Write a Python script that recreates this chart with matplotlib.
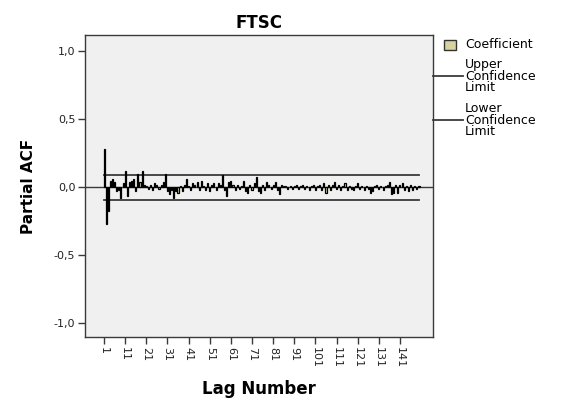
import matplotlib
matplotlib.use("Agg")
import matplotlib.pyplot as plt
from matplotlib.lines import Line2D
from matplotlib.patches import Rectangle
from matplotlib.ticker import FuncFormatter

plt.rcParams["font.family"] = ["DejaVu Sans"]

# partial autocorrelations for lags 1..150
lags = list(range(1, 151))
pacf = [
    0.28, -0.27, -0.17, 0.05, 0.06, 0.04, -0.03, -0.02, -0.08, 0.03,
    0.12, -0.06, 0.04, 0.05, 0.06, -0.03, 0.10, 0.04, 0.12, 0.02,
    0.01, -0.01, 0.02, -0.02, 0.03, 0.02, -0.01, 0.02, 0.04, 0.10,
    -0.03, -0.05, -0.02, -0.08, -0.03, -0.04, 0.01, -0.03, 0.02, 0.06,
    0.01, -0.02, 0.03, 0.02, 0.04, -0.02, 0.05, 0.01, -0.02, 0.03,
    -0.03, 0.02, 0.03, -0.02, 0.03, 0.02, 0.09, -0.02, -0.06, 0.04,
    0.05, 0.02, -0.02, 0.02, -0.01, 0.01, 0.05, -0.03, -0.04, 0.02,
    -0.02, 0.03, 0.08, -0.03, -0.04, 0.02, -0.02, 0.04, 0.02, -0.01,
    0.02, 0.04, -0.02, -0.05, 0.02, 0.01, 0.01, -0.01, 0.01, -0.01,
    0.01, 0.02, -0.01, 0.01, 0.02, -0.01, 0.01, -0.02, 0.01, 0.02,
    -0.02, 0.01, 0.02, -0.02, 0.03, -0.04, 0.02, -0.02, 0.02, 0.04,
    -0.01, 0.02, -0.02, 0.01, 0.03, -0.02, 0.01, -0.01, -0.02, 0.01,
    0.03, -0.01, 0.01, -0.02, 0.01, -0.01, -0.04, -0.03, 0.01, 0.02,
    -0.01, 0.01, -0.02, 0.01, 0.02, 0.04, -0.05, -0.04, 0.02, -0.04,
    0.02, 0.03, -0.02, 0.01, -0.03, 0.02, -0.02, 0.01, -0.01, 0.01,
]
conf_limit = 0.092
xticks = list(range(1, 142, 10))

bar_color = "#d6d3a0"
frame_color = "#3a3a3a"

fig = plt.figure(figsize=(5.63, 4.08), dpi=100)
ax = fig.add_axes([0.151, 0.174, 0.618, 0.740])
ax.set_facecolor("#f0f0f0")

ax.axhline(0, color=frame_color, lw=1.0, zorder=1)
ax.bar(lags, pacf, width=0.5, color=bar_color, edgecolor="black", lw=0.9, zorder=3)
ax.plot([lags[0], lags[-1]], [conf_limit, conf_limit], color=frame_color, lw=1.3, zorder=2)
ax.plot([lags[0], lags[-1]], [-conf_limit, -conf_limit], color=frame_color, lw=1.3, zorder=2)

ax.set_xlim(-8, 156.6)
ax.set_ylim(-1.1, 1.12)
ax.set_yticks([-1.0, -0.5, 0.0, 0.5, 1.0])
ax.yaxis.set_major_formatter(FuncFormatter(lambda v, p: "{:.1f}".format(v).replace(".", ",")))
ax.set_xticks(xticks)
ax.set_xticklabels([str(t) for t in xticks], rotation=-90)
ax.tick_params(axis="both", labelsize=8, color=frame_color, length=5, width=1.0,
               labelcolor="#222222", pad=2)
for s in ax.spines.values():
    s.set_color(frame_color)
    s.set_linewidth(1.0)

ax.set_title("FTSC", fontsize=12, fontweight="bold", pad=5)
ax.set_ylabel("Partial ACF", fontsize=11, fontweight="bold", labelpad=13)
ax.set_xlabel("Lag Number", fontsize=12, fontweight="bold", labelpad=9)

# legend drawn beside the plot area
W, H = 563.0, 408.0
fig.add_artist(Rectangle((444 / W, 1 - 50 / H), 12 / W, 10 / H, transform=fig.transFigure,
                         facecolor=bar_color, edgecolor="#333333", lw=1.0))
fig.text(465 / W, 1 - 45 / H, "Coefficient", fontsize=9, va="center", ha="left")
for y, label in [(76, "Upper\nConfidence\nLimit"), (120, "Lower\nConfidence\nLimit")]:
    fig.add_artist(Line2D([433 / W, 463 / W], [1 - y / H, 1 - y / H], transform=fig.transFigure,
                          color=frame_color, lw=1.3))
    fig.text(465 / W, 1 - y / H, label, fontsize=9, va="center", ha="left", linespacing=0.88)

fig.savefig("out.png", dpi=100)
